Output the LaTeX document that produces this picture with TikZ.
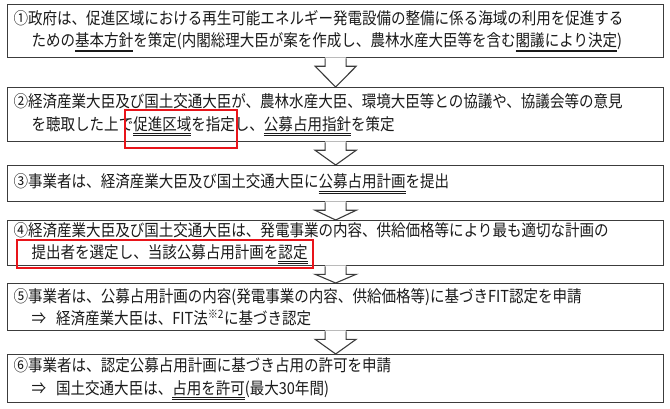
\documentclass[tikz,border=0pt]{standalone}
\usepackage{fontspec}
\setmainfont{Noto Sans CJK JP}[FakeStretch=0.88]
\usetikzlibrary{calc}
\definecolor{ink}{HTML}{1A1A1A}
\definecolor{edge}{HTML}{3C3C3C}
\definecolor{hl}{HTML}{E8141A}
\newcommand\dul[1]{\leavevmode\setbox0=\hbox{#1}\rlap{\rule[-3.4pt]{\wd0}{0.65pt}}\rlap{\rule[-5.3pt]{\wd0}{0.65pt}}\box0}
\newcommand\bigarrow[2]{%
  \fill[white] ([xshift=-10.5pt,yshift=1pt]#1.south) -- ([xshift=-10.5pt,yshift=-8pt]#1.south)
     -- ([xshift=-20.5pt,yshift=-8pt]#1.south) -- (#2.north)
     -- ([xshift=20.5pt,yshift=-8pt]#1.south) -- ([xshift=10.5pt,yshift=-8pt]#1.south)
     -- ([xshift=10.5pt,yshift=1pt]#1.south) -- cycle;
  \draw[arrowline] ([xshift=-10.5pt]#1.south) -- ([xshift=-10.5pt,yshift=-8pt]#1.south)
     -- ([xshift=-20.5pt,yshift=-8pt]#1.south) -- (#2.north)
     -- ([xshift=20.5pt,yshift=-8pt]#1.south) -- ([xshift=10.5pt,yshift=-8pt]#1.south)
     -- ([xshift=10.5pt]#1.south);}
\begin{document}
\begin{tikzpicture}[x=1pt,y=-1pt,
  stepbox/.style={draw=edge, line width=1.3pt, fill=white, anchor=north west,
    minimum width=656pt, text width=644pt, align=left, inner xsep=6pt, inner ysep=0pt,
    font=\fontsize{16.5pt}{22.5pt}\selectfont, text=ink},
  arrowline/.style={draw=edge, line width=1.1pt, line join=miter},
  redbox/.style={draw=hl, line width=1.5pt}]
\useasboundingbox (0,0) rectangle (670,409);
\node[stepbox, minimum height=53pt] (b1) at (7,4)
  {①政府は、促進区域における再生可能エネルギー発電設備の整備に係る海域の利用を促進する\\
   \hspace*{18pt}ための\dul{基本方針}を策定(内閣総理大臣が案を作成し、農林水産大臣等を含む\dul{閣議により決定})};
\node[stepbox, minimum height=54pt] (b2) at (7,87)
  {②経済産業大臣及び国土交通大臣が、農林水産大臣、環境大臣等との協議や、協議会等の意見\\
   \hspace*{18pt}を聴取した上で\dul{促進区域}を指定し、\dul{公募占用指針}を策定};
\node[stepbox, minimum height=36pt] (b3) at (7,165)
  {③事業者は、経済産業大臣及び国土交通大臣に\dul{公募占用計画}を提出};
\node[stepbox, minimum height=45pt] (b4) at (7,220)
  {④経済産業大臣及び国土交通大臣は、発電事業の内容、供給価格等により最も適切な計画の\\
   \hspace*{18pt}提出者を選定し、当該公募占用計画を\dul{認定}};
\node[stepbox, minimum height=47pt] (b5) at (7,283)
  {⑤事業者は、公募占用計画の内容(発電事業の内容、供給価格等)に基づきFIT認定を申請\\
   \hspace*{18pt}⇒\hspace{10pt}経済産業大臣は、FIT法\textsuperscript{※2}に基づき認定};
\node[stepbox, minimum height=48pt] (b6) at (7,354)
  {⑥事業者は、認定公募占用計画に基づき占用の許可を申請\\
   \hspace*{18pt}⇒\hspace{10pt}国土交通大臣は、\dul{占用を許可}(最大30年間)};
\bigarrow{b1}{b2}
\bigarrow{b2}{b3}
\bigarrow{b3}{b4}
\bigarrow{b4}{b5}
\bigarrow{b5}{b6}
\draw[redbox] (125,110) rectangle (237,148);
\draw[redbox] (17,240) rectangle (313,268);
\end{tikzpicture}
\end{document}
